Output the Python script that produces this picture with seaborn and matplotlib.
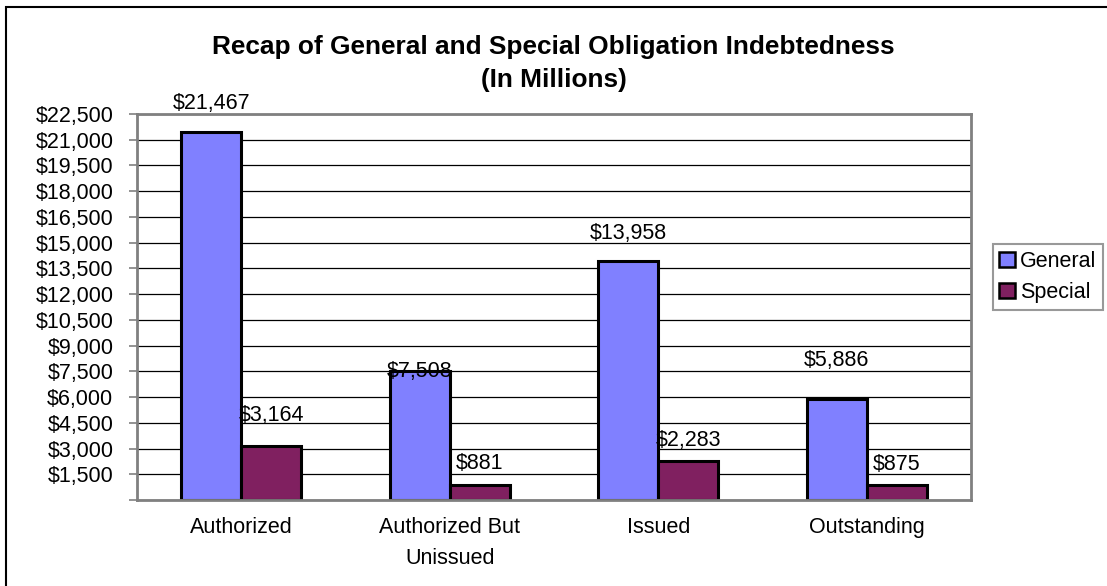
import matplotlib
matplotlib.use("Agg")
import matplotlib.pyplot as plt
import matplotlib.patches as mpatches
import seaborn as sns
import pandas as pd

categories = ["Authorized", "Authorized But\nUnissued", "Issued", "Outstanding"]
series_names = ["General", "Special"]
general_values = [21467, 7508, 13958, 5886]
special_values = [3164, 881, 2283, 875]

y_ticks = list(range(0, 22501, 1500))

# value-label lift above each bar top, in pixels
general_lift = [28, 0, 27, 39]
special_lift = [30, 21, 20, 20]

colors = ["#8080FF", "#802060"]

df = pd.DataFrame({
    "category": categories * 2,
    "series": [series_names[0]] * 4 + [series_names[1]] * 4,
    "value": general_values + special_values,
})

sns.set_theme(style="white")
plt.rcParams["font.family"] = ["Liberation Sans", "DejaVu Sans"]
plt.rcParams["text.color"] = "black"
plt.rcParams["xtick.labelcolor"] = "black"
plt.rcParams["ytick.labelcolor"] = "black"

FS = 15.5

fig = plt.figure(figsize=(11.07, 5.86), dpi=100)
ax = fig.add_axes([137 / 1107, 86 / 586, (971 - 137) / 1107, (500 - 114) / 586])

sns.barplot(data=df, x="category", y="value", hue="series", order=categories,
            hue_order=series_names, palette=colors, saturation=1, width=0.577,
            edgecolor="black", linewidth=2.2, ax=ax, legend=False)

ax.set_xlim(-0.5, 3.5)
ax.set_ylim(0, 22500)
ax.set_yticks(y_ticks)
ax.set_yticklabels(["" if v == 0 else f"${v:,}" for v in y_ticks], fontsize=FS)
ax.set_xticklabels(categories, fontsize=FS, linespacing=1.62)
ax.tick_params(axis="x", length=0, pad=12, labelcolor="black")
ax.tick_params(axis="y", direction="out", length=6, width=1.2, color="#808080",
               pad=11, left=True, labelcolor="black")
ax.set_xlabel("")
ax.set_ylabel("")

ax.yaxis.grid(True, color="black", linewidth=0.9)
ax.set_axisbelow(True)
for side in ["left", "right", "top", "bottom"]:
    ax.spines[side].set_visible(True)
    ax.spines[side].set_color("#808080")
    ax.spines[side].set_linewidth(2)

# value labels above each bar
for container, vals, lifts in zip(ax.containers, [general_values, special_values],
                                  [general_lift, special_lift]):
    for bar, v, lift in zip(container.patches, vals, lifts):
        ax.annotate(f"${v:,}", (bar.get_x() + bar.get_width() / 2, v),
                    xytext=(0, lift), textcoords="offset pixels", color="black",
                    ha="center", va="center", fontsize=FS, annotation_clip=False)

fig.suptitle("Recap of General and Special Obligation Indebtedness\n(In Millions)",
             x=0.5, y=1 - 35 / 586, va="top", fontsize=18.9, fontweight="bold",
             linespacing=1.47, color="black")

handles = [mpatches.Patch(facecolor=c, edgecolor="black", linewidth=1.8, label=n)
           for c, n in zip(colors, series_names)]
leg = fig.legend(handles=handles, loc="center left",
                 bbox_to_anchor=(993 / 1107, 1 - 277 / 586), fontsize=FS,
                 frameon=True, fancybox=False, borderpad=0.3, handlelength=0.7,
                 handleheight=0.7, handletextpad=0.25, labelspacing=0.5,
                 borderaxespad=0)
leg.get_frame().set_edgecolor("#808080")
leg.get_frame().set_linewidth(1.5)
for t in leg.get_texts():
    t.set_color("black")

# outer chart border
fig.patches.append(mpatches.Rectangle((6 / 1107, -0.5), 2, 0.5 + 579 / 586,
                                      transform=fig.transFigure, fill=False,
                                      edgecolor="black", linewidth=1.5))

fig.savefig("out.png", dpi=100)
